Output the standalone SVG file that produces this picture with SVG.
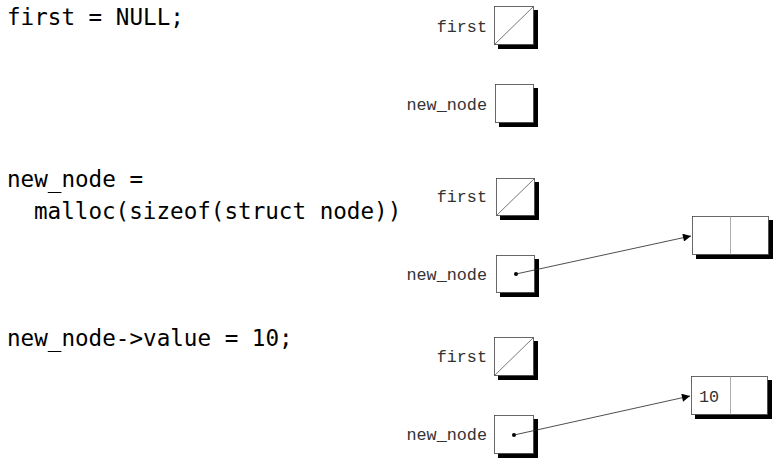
<svg xmlns="http://www.w3.org/2000/svg" width="780" height="469" viewBox="0 0 780 469">
<defs>
<style>
.code{font-family:"DejaVu Sans Mono",monospace;font-size:22.6px;fill:#000}
.lbl{font-family:"Liberation Mono","Courier New",monospace;font-size:16.8px;fill:#333;text-anchor:end}
.val{font-family:"Liberation Mono","Courier New",monospace;font-size:16.8px;fill:#333}
.sh{fill:#000}
.bx{fill:#fff;stroke:#444;stroke-width:0.8}
.ln{stroke:#555;stroke-width:0.8;fill:none}
.arr{stroke:#222;stroke-width:0.8;fill:none;marker-end:url(#ah)}
</style>
<marker id="ah" viewBox="0 0 10 10" refX="10" refY="5" markerWidth="10" markerHeight="8" markerUnits="userSpaceOnUse" orient="auto">
<path d="M0,0 L10,5 L0,10 z" fill="#000"/>
</marker>
</defs>

<g id="code">
<text class="code" x="7" y="25">first = NULL;</text>
<text class="code" x="7" y="187">new_node =</text>
<text class="code" x="34" y="219">malloc(sizeof(struct node))</text>
<text class="code" x="7" y="346">new_node-&gt;value = 10;</text>
</g>

<g id="first1">
<text class="lbl" x="487" y="32">first</text>
<rect class="sh" x="498" y="10" width="40" height="39"/>
<rect class="bx" x="494.5" y="6.5" width="39" height="38"/>
<line class="ln" x1="494.5" y1="44.5" x2="533.5" y2="6.5"/>
</g>
<g id="newnode1">
<text class="lbl" x="487" y="110">new_node</text>
<rect class="sh" x="499" y="88" width="39" height="39"/>
<rect class="bx" x="495.5" y="84.5" width="38" height="38"/>
</g>

<g id="first2">
<text class="lbl" x="487" y="202">first</text>
<rect class="sh" x="500" y="182" width="39" height="38"/>
<rect class="bx" x="496.5" y="178.5" width="38" height="37"/>
<line class="ln" x1="496.5" y1="215.5" x2="534.5" y2="178.5"/>
</g>
<g id="newnode2">
<text class="lbl" x="487" y="280">new_node</text>
<rect class="sh" x="500" y="259" width="39" height="38"/>
<rect class="bx" x="496.5" y="255.5" width="38" height="37"/>
<circle cx="516" cy="274" r="2" fill="#000"/>
</g>
<g id="node2">
<rect class="sh" x="696" y="220" width="77" height="39"/>
<rect class="bx" x="692.5" y="216.5" width="76" height="38"/>
<line x1="730.5" y1="216.5" x2="730.5" y2="254.5" stroke="#999" stroke-width="0.8"/>
</g>

<g id="first3">
<text class="lbl" x="487" y="362">first</text>
<rect class="sh" x="498" y="341" width="40" height="39"/>
<rect class="bx" x="494.5" y="337.5" width="39" height="38"/>
<line class="ln" x1="494.5" y1="375.5" x2="533.5" y2="337.5"/>
</g>
<g id="newnode3">
<text class="lbl" x="487" y="440">new_node</text>
<rect class="sh" x="498" y="419" width="40" height="39"/>
<rect class="bx" x="494.5" y="415.5" width="39" height="38"/>
<circle cx="514" cy="435" r="2" fill="#000"/>
</g>
<g id="node3">
<rect class="sh" x="695" y="380" width="77" height="39"/>
<rect class="bx" x="691.5" y="376.5" width="76" height="38"/>
<line x1="730.5" y1="376.5" x2="730.5" y2="414.5" stroke="#999" stroke-width="0.8"/>
<text class="val" x="699" y="402">10</text>
</g>

<g id="connectors">
<line class="arr" x1="516" y1="274" x2="691" y2="236"/>
<line class="arr" x1="514" y1="435" x2="690" y2="396"/>
</g>
</svg>
